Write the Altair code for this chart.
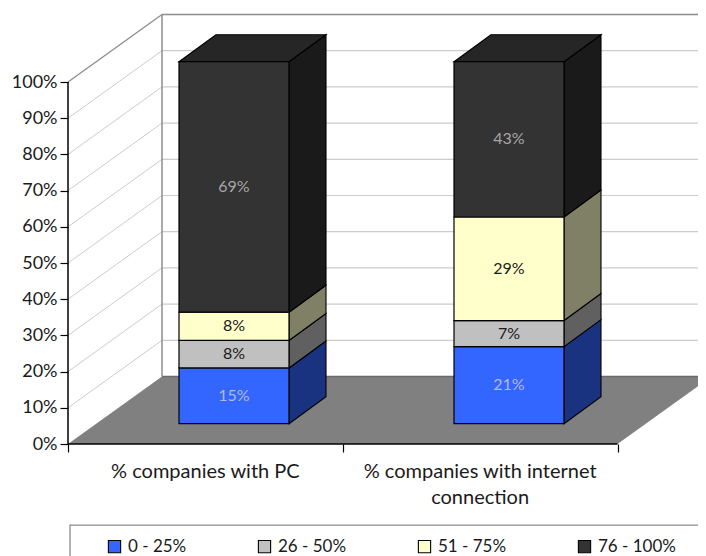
import altair as alt
import pandas as pd

categories = ["% companies with PC", "% companies with internet connection"]
category_lines = [["% companies with PC"], ["% companies with internet", "connection"]]
series = ["0 - 25%", "26 - 50%", "51 - 75%", "76 - 100%"]
values = {
    "% companies with PC": [15.4, 7.6, 7.8, 69.2],
    "% companies with internet connection": [21.3, 7.2, 28.6, 42.9],
}
front_colors = ["#3366ff", "#c0c0c0", "#ffffcc", "#333333"]
side_colors = ["#1a3380", "#606060", "#808066", "#1a1a1a"]
label_colors = ["#b4b8d8", "#1a1a1a", "#1a1a1a", "#a6a6a6"]
top_color = "#262626"
ticks = list(range(0, 101, 10))

FONT = "Lato"
PX_PER_PCT = 3.62
W, H = 690, 548
X0, X1 = -60, W - 60         # x scale in chart units
Y1 = (444 - 8) / PX_PER_PCT  # y scale in percent
Y0 = Y1 - H / PX_PER_PCT
AXIS_LEN = 549.5
WALL_DX, WALL_DY = 94, 67.5 / PX_PER_PCT
BAR_DX, BAR_DY = 37, 27 / PX_PER_PCT
BAR_W = 110
BAR_X = [111, 386]
BAR_LIFT = 20.3 / PX_PER_PCT
LINE_DROP = [-7.6, -15.0]
tick_x = [0, AXIS_LEN / 2, AXIS_LEN]

xs = alt.Scale(domain=[X0, X1], nice=False, zero=False, padding=0)
ys = alt.Scale(domain=[Y0, Y1], nice=False, zero=False, padding=0)
x_axis = alt.Axis(
    values=tick_x, offset=-(8 + H - 444), domain=False, grid=False, labels=False, tickSize=8,
    tickColor="#000000", tickWidth=1.2, title=None)
y_axis = alt.Axis(
    values=ticks, offset=-60, domain=False, grid=False, tickSize=8, tickColor="#000000",
    tickWidth=1.2, labelPadding=3, labelFont=FONT, labelFontSize=18, labelColor="#1a1a1a",
    labelExpr="datum.value + '%'", title=None)
X = lambda f: alt.X(f"{f}:Q", scale=xs, axis=x_axis)
Y = lambda f: alt.Y(f"{f}:Q", scale=ys, axis=y_axis)
layers = []

# floor
floor = pd.DataFrame([
    {"y": 0, "x": 0, "x2": AXIS_LEN},
    {"y": WALL_DY, "x": WALL_DX, "x2": AXIS_LEN + WALL_DX},
])
layers.append(alt.Chart(floor).mark_area(orient="horizontal", fill="#808080").encode(
    y=Y("y"), x=X("x"), x2="x2:Q"))
layers.append(alt.Chart(pd.DataFrame([{"x": WALL_DX, "x2": X1 + 20, "y": WALL_DY}])).mark_rule(
    color="#6a6a6a", strokeWidth=1.5).encode(x=X("x"), x2="x2:Q", y=Y("y")))

# gridlines: side wall and back wall
side_rows, back_rows = [], []
for t in ticks[1:]:
    side_rows.append({"x": 0, "x2": WALL_DX, "y": t, "y2": t + WALL_DY, "t": t})
    back_rows.append({"x": WALL_DX, "x2": X1 + 20, "y": t + WALL_DY})
line_rows = []
for r in side_rows:
    line_rows += [{"x": r["x"], "y": r["y"], "t": r["t"]}, {"x": r["x2"], "y": r["y2"], "t": r["t"]}]
lines = pd.DataFrame(line_rows)
layers.append(alt.Chart(lines[lines.t < 100]).mark_line(color="#cccccc", strokeWidth=1).encode(
    x=X("x"), y=Y("y"), detail="t:N"))
layers.append(alt.Chart(lines[lines.t == 100]).mark_line(color="#8c8c8c", strokeWidth=1.3).encode(
    x=X("x"), y=Y("y"), detail="t:N"))
back = pd.DataFrame(back_rows)
layers.append(alt.Chart(back[back.y < 100 + WALL_DY]).mark_rule(color="#cccccc", strokeWidth=1.2).encode(
    x=X("x"), x2="x2:Q", y=Y("y")))
layers.append(alt.Chart(back[back.y >= 100 + WALL_DY]).mark_rule(color="#8c8c8c", strokeWidth=1.5).encode(
    x=X("x"), x2="x2:Q", y=Y("y")))
layers.append(alt.Chart(pd.DataFrame([{"x": WALL_DX, "y": WALL_DY, "y2": 100 + WALL_DY}])).mark_rule(
    color="#8c8c8c", strokeWidth=1.5).encode(x=X("x"), y=Y("y"), y2="y2:Q"))

# bars
front_rows, side_pts, top_pts, label_rows = [], [], [], []
for b, cat in enumerate(categories):
    base = BAR_LIFT
    for s, v in enumerate(values[cat]):
        x0, x1 = BAR_X[b], BAR_X[b] + BAR_W
        front_rows.append({"x": x0, "x2": x1, "y": base, "y2": base + v, "series": series[s]})
        key = f"{b}-{s}"
        side_pts += [
            {"x": x1, "y": base, "y2": base + v, "s": s, "key": key},
            {"x": x1 + BAR_DX, "y": base + BAR_DY, "y2": base + v + BAR_DY, "s": s, "key": key},
        ]
        label_rows.append({"x": (x0 + x1) / 2, "y": base + v / 2, "text": f"{round(v)}%", "s": s})
        base += v
    top_pts += [
        {"y": base, "x": x0, "x2": x1, "key": b},
        {"y": base + BAR_DY, "x": x0 + BAR_DX, "x2": x1 + BAR_DX, "key": b},
    ]
side_df = pd.DataFrame(side_pts)
for s in range(len(series)):
    layers.append(alt.Chart(side_df[side_df.s == s]).mark_area(
        fill=side_colors[s], stroke="#000000", strokeWidth=1.1).encode(
        x=X("x"), y=Y("y"), y2="y2:Q", detail="key:N"))
layers.append(alt.Chart(pd.DataFrame(top_pts)).mark_area(
    orient="horizontal", fill=top_color, stroke="#000000", strokeWidth=1.1).encode(
    y=Y("y"), x=X("x"), x2="x2:Q", detail="key:N"))
layers.append(alt.Chart(pd.DataFrame(front_rows)).mark_rect(stroke="#000000", strokeWidth=1.2).encode(
    x=X("x"), x2="x2:Q", y=Y("y"), y2="y2:Q",
    color=alt.Color("series:N",
        scale=alt.Scale(domain=series, range=front_colors),
        legend=alt.Legend(
            title=None, orient="none", legendX=98, legendY=530, columns=4,
            direction="horizontal", symbolType="square", symbolSize=150,
            symbolStrokeColor="#000000", symbolStrokeWidth=1.1,
            labelFont=FONT, labelFontSize=17, labelColor="#1a1a1a",
            columnPadding=69, labelOffset=5, gridAlign="each",
        )),
))
labels = pd.DataFrame(label_rows)
for s in range(len(series)):
    layers.append(alt.Chart(labels[labels.s == s]).mark_text(
        font=FONT, fontSize=16, color=label_colors[s]).encode(
        x=X("x"), y=Y("y"), text="text:N"))

# legend frame
layers.append(alt.Chart(pd.DataFrame([{"x": 2, "x2": X1 + 30, "y": -22.4, "y2": Y0 - 5}])).mark_rect(
    fill=None, stroke="#8c8c8c", strokeWidth=1.3, clip=False).encode(
    x=X("x"), x2="x2:Q", y=Y("y"), y2="y2:Q"))

# axis lines
layers.append(alt.Chart(pd.DataFrame([{"x": 0, "y": 0, "y2": 100}])).mark_rule(
    color="#000000", strokeWidth=1.5).encode(x=X("x"), y=Y("y"), y2="y2:Q"))
layers.append(alt.Chart(pd.DataFrame([{"x": 0, "x2": AXIS_LEN, "y": 0}])).mark_rule(
    color="#000000", strokeWidth=1.5).encode(x=X("x"), x2="x2:Q", y=Y("y")))

# category labels
cat_rows = []
for b, ls in enumerate(category_lines):
    for i, t in enumerate(ls):
        cat_rows.append({"x": (tick_x[b] + tick_x[b + 1]) / 2, "y": LINE_DROP[i], "text": t})
layers.append(alt.Chart(pd.DataFrame(cat_rows)).mark_text(
    font=FONT, fontSize=20, color="#1a1a1a").encode(x=X("x"), y=Y("y"), text="text:N"))

chart = alt.layer(*layers).properties(
    width=W, height=H, padding=0, autosize=alt.AutoSizeParams(type="none"),
    background="#ffffff",
).configure_view(stroke=None)
chart.save("out.html", embed_options={"renderer": "svg", "actions": False})
